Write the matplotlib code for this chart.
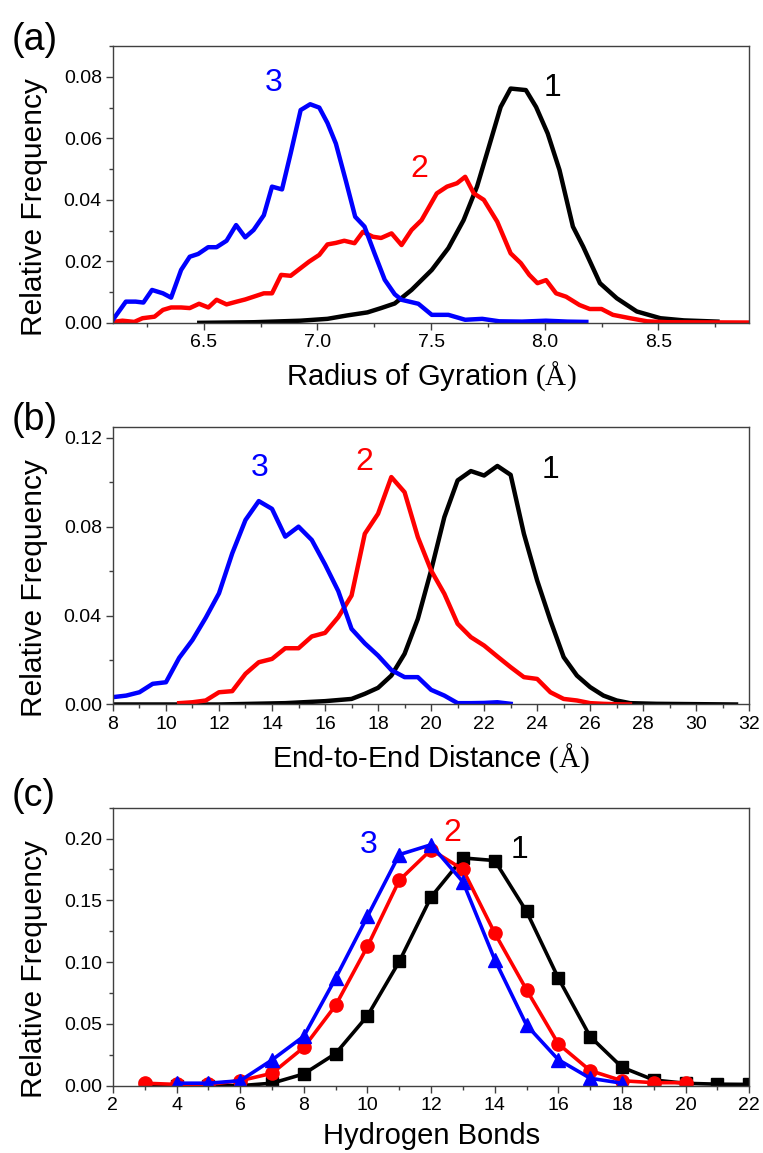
import numpy as np
import matplotlib
matplotlib.use("Agg")
import matplotlib.pyplot as plt
from matplotlib.ticker import MultipleLocator, FormatStrFormatter

plt.rcParams['font.family'] = ['Liberation Sans', 'DejaVu Sans']
plt.rcParams['mathtext.fontset'] = 'custom'
plt.rcParams['mathtext.rm'] = 'Liberation Serif'

# ---- (a) radius of gyration ----
rg_x3 = [6.10, 6.157, 6.20, 6.234, 6.272, 6.32, 6.356, 6.40, 6.438, 6.475, 6.519, 6.556,
         6.60, 6.642, 6.682, 6.719, 6.764, 6.80, 6.844, 6.882, 6.926, 6.968, 7.008, 7.044,
         7.081, 7.126, 7.166, 7.207, 7.251, 7.296, 7.34, 7.37, 7.444, 7.503, 7.576, 7.65,
         7.725, 7.80, 7.90, 8.005, 8.10, 8.183]
rg_y3 = [0.001, 0.0069, 0.0069, 0.0066, 0.0107, 0.0096, 0.0082, 0.0172, 0.0215, 0.0224,
         0.0246, 0.0246, 0.0267, 0.0318, 0.0278, 0.0302, 0.035, 0.0443, 0.0434, 0.0551,
         0.0692, 0.0711, 0.070, 0.065, 0.0583, 0.0459, 0.0345, 0.0313, 0.0226, 0.014,
         0.0093, 0.0075, 0.0062, 0.0026, 0.0026, 0.001, 0.0013, 0.0005, 0.0004, 0.0007,
         0.0004, 0.0003]

rg_x2 = [6.10, 6.142, 6.194, 6.23, 6.283, 6.32, 6.356, 6.40, 6.438, 6.479, 6.52, 6.556,
         6.60, 6.645, 6.682, 6.719, 6.764, 6.80, 6.84, 6.882, 6.926, 6.963, 7.008, 7.044,
         7.081, 7.118, 7.163, 7.20, 7.244, 7.28, 7.326, 7.37, 7.414, 7.458, 7.525, 7.57,
         7.614, 7.65, 7.688, 7.732, 7.791, 7.85, 7.895, 7.932, 7.968, 8.006, 8.05, 8.094,
         8.153, 8.198, 8.25, 8.30, 8.376, 8.45, 8.539, 8.9]
rg_y2 = [0.0003, 0.0007, 0.0003, 0.0015, 0.002, 0.0042, 0.005, 0.005, 0.0048, 0.0062,
         0.005, 0.0075, 0.006, 0.0069, 0.0076, 0.0085, 0.0096, 0.0096, 0.0156, 0.0153,
         0.0178, 0.0199, 0.0221, 0.0255, 0.026, 0.0267, 0.0259, 0.0296, 0.028, 0.0276,
         0.0291, 0.0253, 0.0302, 0.0334, 0.0421, 0.0443, 0.0454, 0.0475, 0.0421, 0.040,
         0.0329, 0.0226, 0.0194, 0.0156, 0.0129, 0.0139, 0.0096, 0.0085, 0.0058, 0.0045,
         0.0045, 0.0026, 0.0015, 0.0005, 0.0002, 0.0001]

rg_x1 = [6.48, 6.72, 6.926, 7.044, 7.13, 7.22, 7.28, 7.34, 7.414, 7.503, 7.576, 7.643,
         7.702, 7.754, 7.806, 7.85, 7.917, 7.962, 8.013, 8.065, 8.124, 8.169, 8.243,
         8.317, 8.405, 8.509, 8.612, 8.76]
rg_y1 = [0.0, 0.0002, 0.0007, 0.0013, 0.0024, 0.0034, 0.0048, 0.0063, 0.0107, 0.0172,
         0.0243, 0.0334, 0.0443, 0.0572, 0.0702, 0.0762, 0.0757, 0.0702, 0.0616, 0.0497,
         0.0313, 0.0248, 0.0129, 0.008, 0.0037, 0.0015, 0.0008, 0.0004]

# ---- (b) end-to-end distance ----
ee_x3 = np.arange(8.0, 23.01, 0.5)
ee_y3 = [0.0033, 0.004, 0.0055, 0.0093, 0.010, 0.021, 0.029, 0.039, 0.050, 0.068, 0.083,
         0.0915, 0.088, 0.0755, 0.080, 0.074, 0.063, 0.051, 0.034, 0.0275, 0.022, 0.0155,
         0.0123, 0.0123, 0.0066, 0.004, 0.0006, 0.0006, 0.0007, 0.001, 0.0003]

ee_x2 = np.arange(10.5, 27.51, 0.5)
ee_y2 = [0.0006, 0.001, 0.0018, 0.0055, 0.006, 0.0138, 0.019, 0.0205, 0.0253, 0.0253,
         0.0306, 0.0322, 0.0393, 0.049, 0.0768, 0.0858, 0.1023, 0.0955, 0.0753, 0.0603,
         0.0498, 0.0363, 0.0303, 0.0265, 0.0216, 0.0168, 0.0123, 0.0115, 0.0055, 0.0025,
         0.0018, 0.0006, 0.0003, 0.0001, 0.0]

ee_x1 = [8.0, 12.0, 14.5, 16.0, 17.0, 17.5, 18.0, 18.5, 19.0, 19.5, 20.0, 20.5, 21.0,
         21.5, 22.0, 22.5, 23.0, 23.5, 24.0, 24.5, 25.0, 25.5, 26.0, 26.5, 27.0, 27.5,
         28.5, 31.5]
ee_y1 = [0.0, 0.0, 0.0006, 0.0015, 0.0025, 0.0048, 0.0075, 0.013, 0.0228, 0.0385,
         0.0603, 0.0843, 0.1008, 0.105, 0.103, 0.1073, 0.1033, 0.0768, 0.0558, 0.0378,
         0.0213, 0.013, 0.0078, 0.004, 0.0018, 0.0006, 0.0003, 0.0]

# ---- (c) hydrogen bonds ----
hb_x1 = list(range(3, 23))
hb_y1 = [0.0, 0.0, 0.0, 0.0, 0.002, 0.0095, 0.026, 0.0565, 0.1005, 0.1527, 0.1843,
         0.1822, 0.141, 0.087, 0.0397, 0.0149, 0.0046, 0.0019, 0.0012, 0.001]
hb_x2 = list(range(3, 21))
hb_y2 = [0.002, 0.001, 0.001, 0.004, 0.010, 0.031, 0.065, 0.1127, 0.1662, 0.191, 0.175,
         0.1235, 0.0776, 0.0338, 0.0122, 0.004, 0.0024, 0.0024]
hb_x3 = list(range(4, 19))
hb_y3 = [0.002, 0.002, 0.004, 0.0208, 0.040, 0.087, 0.137, 0.187, 0.195, 0.165, 0.102,
         0.049, 0.021, 0.006, 0.002]

BLUE, RED, BLACK = '#0000ff', '#ff0000', '#000000'
ylabel = 'Relative Frequency'

fig = plt.figure(figsize=(7.63, 11.53), dpi=100)
ax_a = fig.add_axes([0.148, 0.720, 0.834, 0.240])
ax_b = fig.add_axes([0.148, 0.389, 0.834, 0.241])
ax_c = fig.add_axes([0.148, 0.0584, 0.834, 0.2411])


def style(ax):
    for sp in ax.spines.values():
        sp.set_color('#404040')
        sp.set_linewidth(1.0)
    ax.tick_params(which='both', direction='out', top=False, right=False,
                   color='#404040', labelsize=14, pad=3)
    ax.tick_params(which='major', length=5, width=1)
    ax.tick_params(which='minor', length=3, width=1)
    ax.set_ylabel(ylabel, fontsize=21.5)
    ax.yaxis.set_label_coords(-0.102, 0.42)


lw = 3.2
ax_a.plot(rg_x1, rg_y1, color=BLACK, lw=lw)
ax_a.plot(rg_x2, rg_y2, color=RED, lw=lw)
ax_a.plot(rg_x3, rg_y3, color=BLUE, lw=lw)
ax_a.set_xlim(6.1, 8.9)
ax_a.set_ylim(0, 0.09)
ax_a.xaxis.set_major_locator(MultipleLocator(0.5))
ax_a.xaxis.set_minor_locator(MultipleLocator(0.25))
ax_a.yaxis.set_major_locator(MultipleLocator(0.02))
ax_a.yaxis.set_minor_locator(MultipleLocator(0.01))
ax_a.xaxis.set_major_formatter(FormatStrFormatter('%.1f'))
ax_a.yaxis.set_major_formatter(FormatStrFormatter('%.2f'))
style(ax_a)
ax_a.set_xlabel(r'Radius of Gyration $\mathrm{(Å)}$', fontsize=21, labelpad=6)
ax_a.text(6.806, 0.078, '3', color=BLUE, fontsize=23, ha='center', va='center')
ax_a.text(7.45, 0.050, '2', color=RED, fontsize=23, ha='center', va='center')
ax_a.text(8.035, 0.0763, '1', color=BLACK, fontsize=23, ha='center', va='center')

ax_b.plot(ee_x1, ee_y1, color=BLACK, lw=lw)
ax_b.plot(ee_x2, ee_y2, color=RED, lw=lw)
ax_b.plot(ee_x3, ee_y3, color=BLUE, lw=lw)
ax_b.set_xlim(8, 32)
ax_b.set_ylim(0, 0.125)
ax_b.xaxis.set_major_locator(MultipleLocator(2))
ax_b.xaxis.set_minor_locator(MultipleLocator(1))
ax_b.yaxis.set_major_locator(MultipleLocator(0.04))
ax_b.yaxis.set_minor_locator(MultipleLocator(0.02))
ax_b.yaxis.set_major_formatter(FormatStrFormatter('%.2f'))
style(ax_b)
ax_b.set_xlabel(r'End-to-End Distance $\mathrm{(Å)}$', fontsize=21, labelpad=6)
ax_b.text(13.53, 0.1065, '3', color=BLUE, fontsize=23, ha='center', va='center')
ax_b.text(17.5, 0.109, '2', color=RED, fontsize=23, ha='center', va='center')
ax_b.text(24.49, 0.1053, '1', color=BLACK, fontsize=23, ha='center', va='center')

ax_c.plot(hb_x1, hb_y1, color=BLACK, lw=2.6, marker='s', ms=8)
ax_c.plot(hb_x2, hb_y2, color=RED, lw=2.6, marker='o', ms=9.5)
ax_c.plot(hb_x3, hb_y3, color=BLUE, lw=2.6, marker='^', ms=10)
ax_c.set_xlim(2, 22)
ax_c.set_ylim(0, 0.225)
ax_c.xaxis.set_major_locator(MultipleLocator(2))
ax_c.xaxis.set_minor_locator(MultipleLocator(1))
ax_c.yaxis.set_major_locator(MultipleLocator(0.05))
ax_c.yaxis.set_minor_locator(MultipleLocator(0.025))
ax_c.yaxis.set_major_formatter(FormatStrFormatter('%.2f'))
style(ax_c)
ax_c.set_xlabel('Hydrogen Bonds', fontsize=21, labelpad=6)
ax_c.text(10.05, 0.195, '3', color=BLUE, fontsize=23, ha='center', va='center')
ax_c.text(12.68, 0.2046, '2', color=RED, fontsize=23, ha='center', va='center')
ax_c.text(14.79, 0.191, '1', color=BLACK, fontsize=23, ha='center', va='center')

for lab, yy in [('(a)', 0.9653), ('(b)', 0.6357), ('(c)', 0.3092)]:
    fig.text(0.015, yy, lab, fontsize=27, ha='left', va='center')

fig.savefig('out.png', dpi=100)
